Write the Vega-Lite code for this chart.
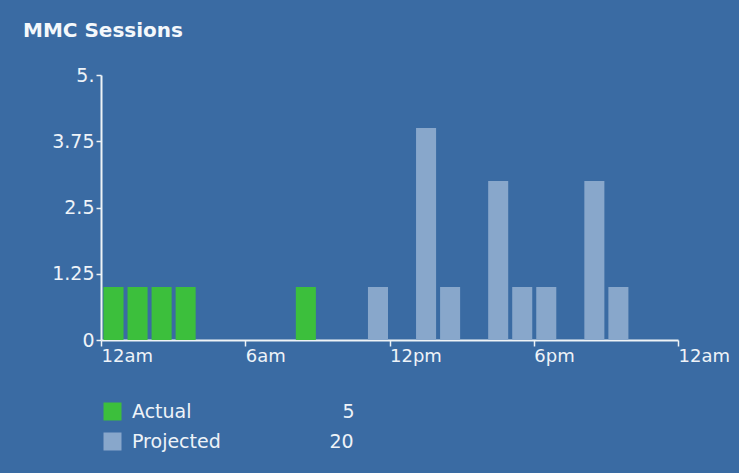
{
  "$schema": "https://vega.github.io/schema/vega-lite/v6.json",
  "width": 577,
  "height": 265,
  "autosize": "none",
  "padding": {"left": 101, "top": 75, "right": 61, "bottom": 133},
  "background": "#3a6ba3",
  "title": {
    "text": "MMC Sessions",
    "anchor": "start",
    "frame": "group",
    "dx": -78,
    "font": "DejaVu Sans",
    "fontSize": 20,
    "fontWeight": "bold",
    "color": "#f4f8fb",
    "offset": 25
  },
  "data": {
    "values": [
      {"hour": 0, "end": 1, "sessions": 1, "series": "Actual"},
      {"hour": 1, "end": 2, "sessions": 1, "series": "Actual"},
      {"hour": 2, "end": 3, "sessions": 1, "series": "Actual"},
      {"hour": 3, "end": 4, "sessions": 1, "series": "Actual"},
      {"hour": 8, "end": 9, "sessions": 1, "series": "Actual"},
      {"hour": 11, "end": 12, "sessions": 1, "series": "Projected"},
      {"hour": 13, "end": 14, "sessions": 4, "series": "Projected"},
      {"hour": 14, "end": 15, "sessions": 1, "series": "Projected"},
      {"hour": 16, "end": 17, "sessions": 3, "series": "Projected"},
      {"hour": 17, "end": 18, "sessions": 1, "series": "Projected"},
      {"hour": 18, "end": 19, "sessions": 1, "series": "Projected"},
      {"hour": 20, "end": 21, "sessions": 3, "series": "Projected"},
      {"hour": 21, "end": 22, "sessions": 1, "series": "Projected"}
    ]
  },
  "mark": {"type": "bar", "binSpacing": 4},
  "encoding": {
    "x": {
      "field": "hour",
      "type": "quantitative",
      "bin": {"binned": true, "step": 1},
      "scale": {"domain": [0, 24], "nice": false, "zero": false},
      "axis": {
        "values": [0, 6, 12, 18, 24],
        "labelExpr": "datum.value == 0 || datum.value == 24 ? '12am' : datum.value == 6 ? '6am' : datum.value == 12 ? '12pm' : '6pm'",
        "labelAlign": "left",
        "labelBaseline": "top",
        "labelFlush": false,
        "labelOverlap": false,
        "labelPadding": 1,
        "labelFontSize": 18,
        "tickSize": 6,
        "title": null,
        "grid": false
      }
    },
    "x2": {"field": "end"},
    "y": {
      "field": "sessions",
      "type": "quantitative",
      "scale": {"domain": [0, 5], "nice": false},
      "axis": {
        "values": [0, 1.25, 2.5, 3.75, 5],
        "labelExpr": "datum.value == 5 ? '5.' : format(datum.value, '~g')",
        "labelPadding": 2,
        "labelFontSize": 19,
        "tickSize": 5,
        "title": null,
        "grid": false
      }
    },
    "color": {
      "field": "series",
      "type": "nominal",
      "scale": {"domain": ["Actual", "Projected"], "range": ["#3cbf3c", "#88a7cb"]},
      "legend": {
        "orient": "none",
        "legendX": 2,
        "legendY": 327,
        "direction": "vertical",
        "title": null,
        "symbolType": "square",
        "symbolSize": 324,
        "symbolStrokeWidth": 0,
        "symbolOpacity": 1,
        "labelFont": "DejaVu Sans",
        "labelFontSize": 19,
        "labelColor": "#eef3f8",
        "labelOffset": 10,
        "labelLimit": 400,
        "rowPadding": 10,
        "labelExpr": "datum.label == 'Actual' ? 'Actual\u00a0\u00a0\u00a0\u00a0\u00a0\u00a0\u00a0\u00a0\u00a0\u00a0\u00a0\u00a0\u00a0\u00a0\u00a0\u00a0\u00a0\u00a0\u00a0\u00a0\u00a0\u00a0\u00a0\u00a0\u00a05' : 'Projected\u00a0\u00a0\u00a0\u00a0\u00a0\u00a0\u00a0\u00a0\u00a0\u00a0\u00a0\u00a0\u00a0\u00a0\u00a0\u00a0\u00a0\u00a020'"
      }
    }
  },
  "config": {
    "view": {"stroke": null},
    "axis": {
      "domainColor": "#eef3f6",
      "domainWidth": 2,
      "tickColor": "#eef3f6",
      "tickWidth": 1.5,
      "labelColor": "#eef3f8",
      "labelFont": "DejaVu Sans"
    }
  }
}
